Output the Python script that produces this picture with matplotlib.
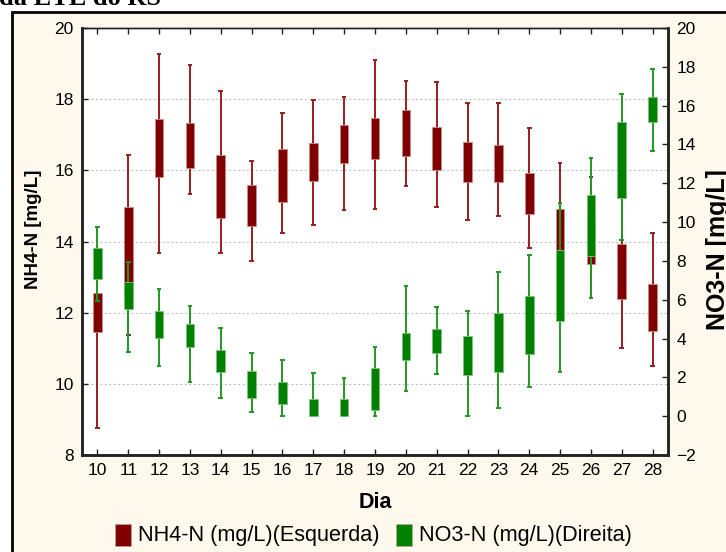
import matplotlib
matplotlib.use('Agg')
import matplotlib.pyplot as plt
from matplotlib.patches import Rectangle

# ---- data ----
days = list(range(10, 29))
nh4_wmin = [8.75, 11.37, 13.68, 15.34, 13.69, 13.45, 14.24, 14.46, 14.88, 14.90,
            15.55, 14.97, 14.60, 14.71, 13.81, 12.60, 12.42, 11.00, 10.50]
nh4_bmin = [11.46, 12.40, 15.82, 16.07, 14.65, 14.43, 15.12, 15.69, 16.22, 16.31,
            16.41, 16.01, 15.68, 15.68, 14.78, 13.76, 13.38, 12.38, 11.48]
nh4_bmax = [12.56, 14.97, 17.45, 17.32, 16.42, 15.60, 16.61, 16.78, 17.28, 17.46,
            17.70, 17.21, 16.81, 16.71, 15.92, 14.91, 14.60, 13.93, 12.80]
nh4_wmax = [13.30, 16.42, 19.28, 18.97, 18.23, 16.26, 17.62, 17.97, 18.06, 19.11,
            18.52, 18.49, 17.90, 17.90, 17.20, 16.21, 15.80, 15.80, 14.23]

no3_wmin = [5.93, 3.31, 2.61, 1.75, 0.95, 0.20, 0.00, 0.00, 0.00, 0.00,
            1.31, 2.15, 0.00, 0.43, 1.51, 2.28, 6.09, 9.09, 13.65]
no3_bmin = [7.06, 5.51, 4.05, 3.59, 2.30, 0.95, 0.64, 0.00, 0.00, 0.31,
            2.92, 3.24, 2.10, 2.27, 3.18, 4.89, 8.23, 11.23, 15.14]
no3_bmax = [8.68, 6.91, 5.44, 4.74, 3.40, 2.32, 1.75, 0.86, 0.91, 2.46,
            4.29, 4.51, 4.12, 5.32, 6.19, 8.54, 11.42, 15.17, 16.47]
no3_wmax = [9.77, 7.93, 6.53, 5.68, 4.55, 3.23, 2.88, 2.20, 1.98, 3.59,
            6.69, 5.61, 5.44, 7.44, 8.32, 10.97, 13.31, 16.60, 17.88]

left_ticks = [8, 10, 12, 14, 16, 18, 20]
right_ticks = list(range(-2, 21, 2))

title_text = "da ETE do RS"
xlabel = "Dia"
ylabel_left = "NH4-N [mg/L]"
ylabel_right = "NO3-N [mg/L]"
legend_labels = ["NH4-N (mg/L)(Esquerda)", "NO3-N (mg/L)(Direita)"]

RED = '#800000'
GREEN = '#008000'
CREAM = '#FFF8EC'

plt.rcParams['font.family'] = ['Liberation Sans', 'DejaVu Sans']

W, H = 726, 552
fig = plt.figure(figsize=(W / 100, H / 100), dpi=100, facecolor='white')

# outer cream frame (cut at right/bottom)
fig.patches.append(Rectangle((12 / W, -0.1), 1.2, 1 - 12 / H + 0.1,
                             transform=fig.transFigure, facecolor=CREAM,
                             edgecolor='black', linewidth=2, zorder=-10))

# cut-off title
fig.text(-1 / W, 1 - 5 / H, title_text, family='Liberation Serif',
         fontweight='bold', fontsize=19, va='baseline', ha='left')

ax = fig.add_axes([82 / W, 1 - 455 / H, (668 - 82) / W, (455 - 28) / H])
ax.set_facecolor('white')
ax2 = ax.twinx()

box_w = 0.28
cap_w = 0.15


def draw(a, wmin, bmin, bmax, wmax, face, line, edge, z):
    a.vlines(days, wmin, wmax, color=line, linewidth=1.4, zorder=z)
    a.hlines(wmin, [d - cap_w / 2 for d in days], [d + cap_w / 2 for d in days],
             color=line, linewidth=1.4, zorder=z)
    a.hlines(wmax, [d - cap_w / 2 for d in days], [d + cap_w / 2 for d in days],
             color=line, linewidth=1.4, zorder=z)
    heights = [t - b for t, b in zip(bmax, bmin)]
    a.bar(days, heights, bottom=bmin, width=box_w, color=face,
          edgecolor=edge, linewidth=0.6, zorder=z + 1)


draw(ax, nh4_wmin, nh4_bmin, nh4_bmax, nh4_wmax, RED, '#951f1f', '#c78a8a', 3)
draw(ax2, no3_wmin, no3_bmin, no3_bmax, no3_wmax, GREEN, '#229822', '#7cc27c', 3)

ax.set_xlim(9.5, 28.5)
ax.set_ylim(8, 20)
ax2.set_ylim(-2, 20)
ax.set_xticks(days)
ax.set_xticklabels([str(d) for d in days])
ax.set_yticks(left_ticks)
ax2.set_yticks(right_ticks)

ax.yaxis.grid(True, color='#c4c4c4', linestyle=(0, (2, 2)), linewidth=0.8)
ax.set_axisbelow(True)

ax.tick_params(axis='both', direction='in', length=4, width=1, labelsize=12.5,
               top=True, colors='#222222', labelcolor='black')
ax2.tick_params(axis='y', direction='in', length=4, width=1, labelsize=12.5,
                colors='#222222', labelcolor='black')
ax.tick_params(axis='x', pad=6)
ax.tick_params(axis='y', pad=6)
ax2.tick_params(axis='y', pad=6)

for a in (ax, ax2):
    for s in ('left', 'bottom', 'right'):
        a.spines[s].set_linewidth(1.8)
        a.spines[s].set_color('#222222')
    a.spines['top'].set_linewidth(1.0)
    a.spines['top'].set_color('#222222')

fig.text(33 / W, 1 - 229 / H, ylabel_left, rotation=90, fontsize=13.5,
         fontweight='bold', ha='center', va='center')
fig.text(718 / W, 1 - 250 / H, ylabel_right, rotation=90, fontsize=18,
         fontweight='bold', ha='center', va='center')
fig.text(375 / W, 1 - 503 / H, xlabel, fontsize=15.5, fontweight='bold',
         ha='center', va='center')

# legend
ly = 1 - 535 / H
for x0, col, lab in [(115, RED, legend_labels[0]), (396, GREEN, legend_labels[1])]:
    fig.patches.append(Rectangle((x0 / W, 1 - 546 / H), 16 / W, 22 / H,
                                 transform=fig.transFigure, facecolor=col,
                                 edgecolor='#c0a0a0', linewidth=0.5))
    fig.text((x0 + 23) / W, ly, lab, fontsize=15.6, ha='left', va='center')

fig.savefig('out.png', dpi=100, facecolor='white')
